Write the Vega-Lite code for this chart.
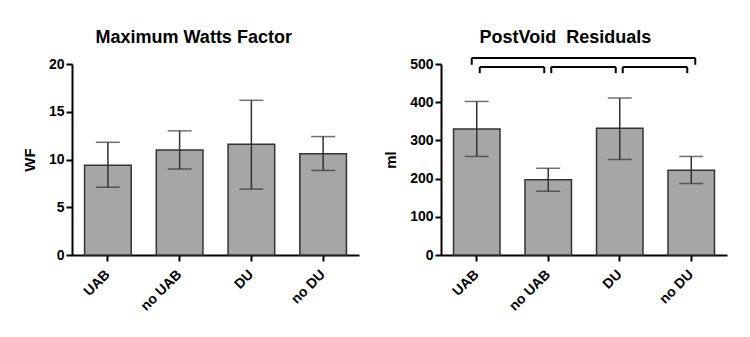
{
  "$schema": "https://vega.github.io/schema/vega-lite/v6.json",
  "padding": {"left": 22, "top": 28, "right": 5, "bottom": 5},
  "background": "#ffffff",
  "config": {
    "font": "Liberation Sans",
    "view": {"stroke": null},
    "axis": {
      "domainColor": "#000000", "domainWidth": 2, "tickColor": "#000000", "tickWidth": 2, "tickSize": 6,
      "labelFont": "Liberation Sans", "labelFontWeight": "bold", "labelFontSize": 14, "labelColor": "#000000", "labelPadding": 2,
      "titleFont": "Liberation Sans", "titleFontSize": 15, "titleFontWeight": "bold", "titleColor": "#000000", "titlePadding": 11,
      "grid": false
    },
    "title": {"font": "Liberation Sans", "fontSize": 18, "fontWeight": "bold", "color": "#000000", "offset": 10, "frame": "bounds"}
  },
  "datasets": {
    "wf": [
      {"group": "UAB", "mean": 9.4, "lo": 7.1, "hi": 11.8},
      {"group": "no UAB", "mean": 11.0, "lo": 9.0, "hi": 13.0},
      {"group": "DU", "mean": 11.6, "lo": 6.9, "hi": 16.2},
      {"group": "no DU", "mean": 10.6, "lo": 8.85, "hi": 12.4}
    ],
    "pvr": [
      {"group": "UAB", "mean": 330, "lo": 258, "hi": 402},
      {"group": "no UAB", "mean": 197, "lo": 167, "hi": 227},
      {"group": "DU", "mean": 332, "lo": 250, "hi": 411},
      {"group": "no DU", "mean": 222, "lo": 187, "hi": 258}
    ],
    "brackets": [
      {"from": "UAB", "to": "no UAB", "level": "low", "ybar": 492, "yend": 476},
      {"from": "no UAB", "to": "DU", "level": "low", "ybar": 492, "yend": 476},
      {"from": "DU", "to": "no DU", "level": "low", "ybar": 492, "yend": 476},
      {"from": "UAB", "to": "no DU", "level": "top", "ybar": 516, "yend": 498}
    ]
  },
  "spacing": 24,
  "hconcat": [
    {
      "width": 287, "height": 191,
      "title": {"text": "Maximum Watts Factor", "dx": 3},
      "data": {"name": "wf"},
      "encoding": {
        "x": {"field": "group", "type": "nominal", "sort": null,
          "scale": {"domain": ["UAB", "no UAB", "DU", "no DU"], "paddingInner": 0.35, "paddingOuter": 0.175},
          "axis": {"title": null, "labelAngle": -45, "labelAlign": "right", "labelBaseline": "middle", "labelPadding": 11, "labelDx": 3}}
      },
      "layer": [
        {"mark": {"type": "bar", "fill": "#a6a6a6", "stroke": "#333333", "strokeWidth": 1.5},
          "encoding": {"y": {"field": "mean", "type": "quantitative", "title": "WF",
            "scale": {"domain": [0, 20]}, "axis": {"values": [0, 5, 10, 15, 20]}}}},
        {"mark": {"type": "rule", "color": "#333333", "strokeWidth": 1.5},
          "encoding": {"y": {"field": "lo", "type": "quantitative", "title": "WF", "scale": {"domain": [0, 20]}, "axis": {"values": [0, 5, 10, 15, 20]}}, "y2": {"field": "hi"}}},
        {"mark": {"type": "tick", "color": "#333333", "thickness": 1.5, "size": 24},
          "encoding": {"y": {"field": "lo", "type": "quantitative", "title": "WF", "scale": {"domain": [0, 20]}, "axis": {"values": [0, 5, 10, 15, 20]}}}},
        {"mark": {"type": "tick", "color": "#333333", "thickness": 1.5, "size": 24},
          "encoding": {"y": {"field": "hi", "type": "quantitative", "title": "WF", "scale": {"domain": [0, 20]}, "axis": {"values": [0, 5, 10, 15, 20]}}}}
      ]
    },
    {
      "width": 286, "height": 191,
      "title": {"text": "PostVoid\u00a0 Residuals", "dx": 10},
      "layer": [
        {
          "data": {"name": "pvr"},
          "encoding": {
            "x": {"field": "group", "type": "nominal", "sort": null,
              "scale": {"domain": ["UAB", "no UAB", "DU", "no DU"], "paddingInner": 0.35, "paddingOuter": 0.175},
              "axis": {"title": null, "labelAngle": -45, "labelAlign": "right", "labelBaseline": "middle", "labelPadding": 11, "labelDx": 3}}
          },
          "layer": [
            {"mark": {"type": "bar", "fill": "#a6a6a6", "stroke": "#333333", "strokeWidth": 1.5},
              "encoding": {"y": {"field": "mean", "type": "quantitative", "title": "ml",
                "scale": {"domain": [0, 500]}, "axis": {"values": [0, 100, 200, 300, 400, 500]}}}},
            {"mark": {"type": "rule", "color": "#333333", "strokeWidth": 1.5},
              "encoding": {"y": {"field": "lo", "type": "quantitative", "title": "ml", "scale": {"domain": [0, 500]}, "axis": {"values": [0, 100, 200, 300, 400, 500]}}, "y2": {"field": "hi"}}},
            {"mark": {"type": "tick", "color": "#333333", "thickness": 1.5, "size": 24},
              "encoding": {"y": {"field": "lo", "type": "quantitative", "title": "ml", "scale": {"domain": [0, 500]}, "axis": {"values": [0, 100, 200, 300, 400, 500]}}}},
            {"mark": {"type": "tick", "color": "#333333", "thickness": 1.5, "size": 24},
              "encoding": {"y": {"field": "hi", "type": "quantitative", "title": "ml", "scale": {"domain": [0, 500]}, "axis": {"values": [0, 100, 200, 300, 400, 500]}}}}
          ]
        },
        {
          "data": {"name": "brackets"},
          "transform": [{"filter": "datum.level == 'low'"}],
          "layer": [
            {"mark": {"type": "rule", "color": "#000000", "strokeWidth": 2, "xOffset": 3, "x2Offset": -4},
              "encoding": {"x": {"field": "from", "type": "nominal", "sort": null, "scale": {"domain": ["UAB", "no UAB", "DU", "no DU"], "paddingInner": 0.35, "paddingOuter": 0.175}, "axis": {"title": null, "labelAngle": -45, "labelAlign": "right", "labelBaseline": "middle", "labelPadding": 11, "labelDx": 3}}, "x2": {"field": "to"},
                "y": {"field": "ybar", "type": "quantitative", "title": "ml", "scale": {"domain": [0, 500]}, "axis": {"values": [0, 100, 200, 300, 400, 500]}}}},
            {"mark": {"type": "rule", "color": "#000000", "strokeWidth": 2, "xOffset": 3},
              "encoding": {"x": {"field": "from", "type": "nominal", "sort": null, "scale": {"domain": ["UAB", "no UAB", "DU", "no DU"], "paddingInner": 0.35, "paddingOuter": 0.175}, "axis": {"title": null, "labelAngle": -45, "labelAlign": "right", "labelBaseline": "middle", "labelPadding": 11, "labelDx": 3}},
                "y": {"field": "ybar", "type": "quantitative", "title": "ml", "scale": {"domain": [0, 500]}, "axis": {"values": [0, 100, 200, 300, 400, 500]}}, "y2": {"field": "yend"}}},
            {"mark": {"type": "rule", "color": "#000000", "strokeWidth": 2, "xOffset": -4},
              "encoding": {"x": {"field": "to", "type": "nominal", "sort": null, "scale": {"domain": ["UAB", "no UAB", "DU", "no DU"], "paddingInner": 0.35, "paddingOuter": 0.175}, "axis": {"title": null, "labelAngle": -45, "labelAlign": "right", "labelBaseline": "middle", "labelPadding": 11, "labelDx": 3}},
                "y": {"field": "ybar", "type": "quantitative", "title": "ml", "scale": {"domain": [0, 500]}, "axis": {"values": [0, 100, 200, 300, 400, 500]}}, "y2": {"field": "yend"}}}
          ]
        },
        {
          "data": {"name": "brackets"},
          "transform": [{"filter": "datum.level == 'top'"}],
          "layer": [
            {"mark": {"type": "rule", "color": "#000000", "strokeWidth": 2, "xOffset": -5, "x2Offset": 4},
              "encoding": {"x": {"field": "from", "type": "nominal", "sort": null, "scale": {"domain": ["UAB", "no UAB", "DU", "no DU"], "paddingInner": 0.35, "paddingOuter": 0.175}, "axis": {"title": null, "labelAngle": -45, "labelAlign": "right", "labelBaseline": "middle", "labelPadding": 11, "labelDx": 3}}, "x2": {"field": "to"},
                "y": {"field": "ybar", "type": "quantitative", "title": "ml", "scale": {"domain": [0, 500]}, "axis": {"values": [0, 100, 200, 300, 400, 500]}}}},
            {"mark": {"type": "rule", "color": "#000000", "strokeWidth": 2, "xOffset": -5},
              "encoding": {"x": {"field": "from", "type": "nominal", "sort": null, "scale": {"domain": ["UAB", "no UAB", "DU", "no DU"], "paddingInner": 0.35, "paddingOuter": 0.175}, "axis": {"title": null, "labelAngle": -45, "labelAlign": "right", "labelBaseline": "middle", "labelPadding": 11, "labelDx": 3}},
                "y": {"field": "ybar", "type": "quantitative", "title": "ml", "scale": {"domain": [0, 500]}, "axis": {"values": [0, 100, 200, 300, 400, 500]}}, "y2": {"field": "yend"}}},
            {"mark": {"type": "rule", "color": "#000000", "strokeWidth": 2, "xOffset": 4},
              "encoding": {"x": {"field": "to", "type": "nominal", "sort": null, "scale": {"domain": ["UAB", "no UAB", "DU", "no DU"], "paddingInner": 0.35, "paddingOuter": 0.175}, "axis": {"title": null, "labelAngle": -45, "labelAlign": "right", "labelBaseline": "middle", "labelPadding": 11, "labelDx": 3}},
                "y": {"field": "ybar", "type": "quantitative", "title": "ml", "scale": {"domain": [0, 500]}, "axis": {"values": [0, 100, 200, 300, 400, 500]}}, "y2": {"field": "yend"}}}
          ]
        }
      ]
    }
  ]
}
